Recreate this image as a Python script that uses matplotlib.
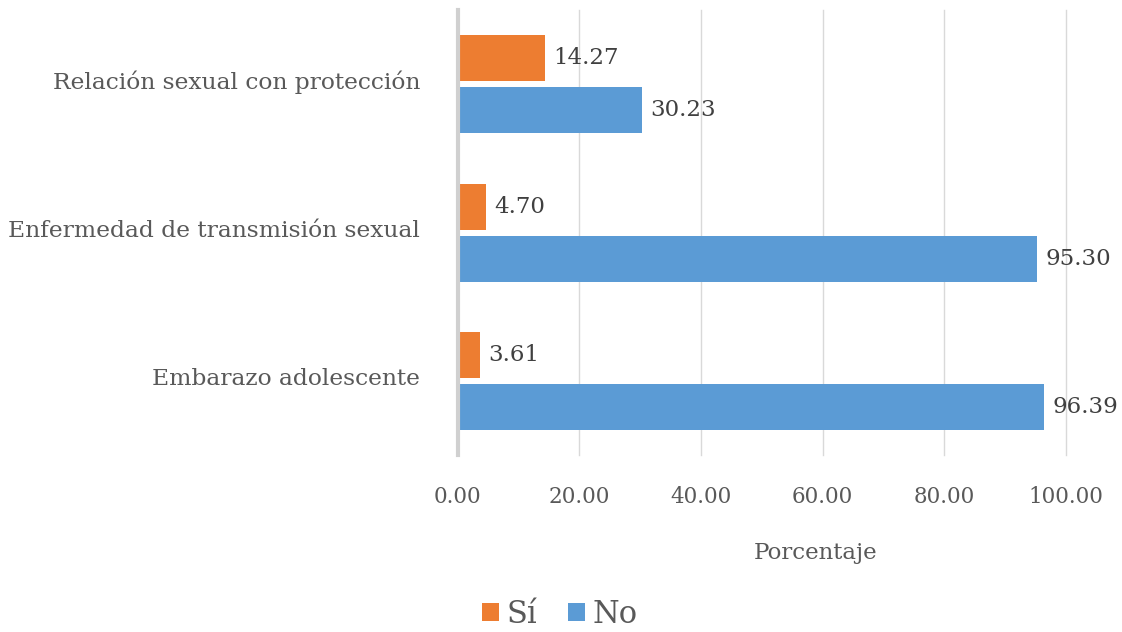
import numpy as np
import matplotlib.pyplot as plt
import matplotlib as mpl

mpl.rcParams['font.family'] = ['DejaVu Serif']

categorias = ['Embarazo adolescente', 'Enfermedad de transmisión sexual', 'Relación sexual con protección']
si = [3.61, 4.70, 14.27]
no = [96.39, 95.30, 30.23]

naranja = '#ED7D31'
azul = '#5B9BD5'
gris = '#595959'

fig = plt.figure(figsize=(11.22, 6.32), dpi=100)
ax = fig.add_axes([0.408, 0.28, 0.542, 0.704])

y = np.arange(len(categorias))
h = 0.31
b1 = ax.barh(y + 0.175, si, height=h, color=naranja, label='Sí', zorder=3)
b2 = ax.barh(y - 0.175, no, height=h, color=azul, label='No', zorder=3)

ax.bar_label(b1, labels=['%.2f' % v for v in si], padding=6, fontsize=16.5, color='#404040')
ax.bar_label(b2, labels=['%.2f' % v for v in no], padding=6, fontsize=16.5, color='#404040')

ax.set_xlim(0, 100)
ax.set_ylim(-0.5, 2.5)
ax.set_xticks(np.arange(0, 101, 20))
ax.set_xticklabels(['%.2f' % v for v in np.arange(0, 101, 20)])
ax.set_yticks(y + 0.03)
ax.set_yticklabels(categorias)
ax.tick_params(axis='x', length=0, pad=22, labelsize=15.5, labelcolor=gris)
ax.tick_params(axis='y', length=0, pad=27, labelsize=16.8, labelcolor=gris)
ax.grid(axis='x', color='#d9d9d9', linewidth=1, zorder=0)
for g in ax.get_xgridlines():
    g.set_clip_on(False)

for s in ['top', 'right', 'bottom']:
    ax.spines[s].set_visible(False)
ax.spines['left'].set_color('#d0d0d0')
ax.spines['left'].set_linewidth(3)
ax.spines['left'].set_zorder(4)

ax.set_xlabel('Porcentaje', fontsize=16.5, color=gris)
ax.xaxis.set_label_coords(0.589, -0.196)

fig.legend(handles=[b1, b2], loc='center', bbox_to_anchor=(0.499, 0.028), ncol=2, frameon=False,
           fontsize=22, labelcolor=gris, handlelength=0.55, handleheight=0.55, handletextpad=0.25, columnspacing=1.0)

fig.savefig('out.png', dpi=100)
